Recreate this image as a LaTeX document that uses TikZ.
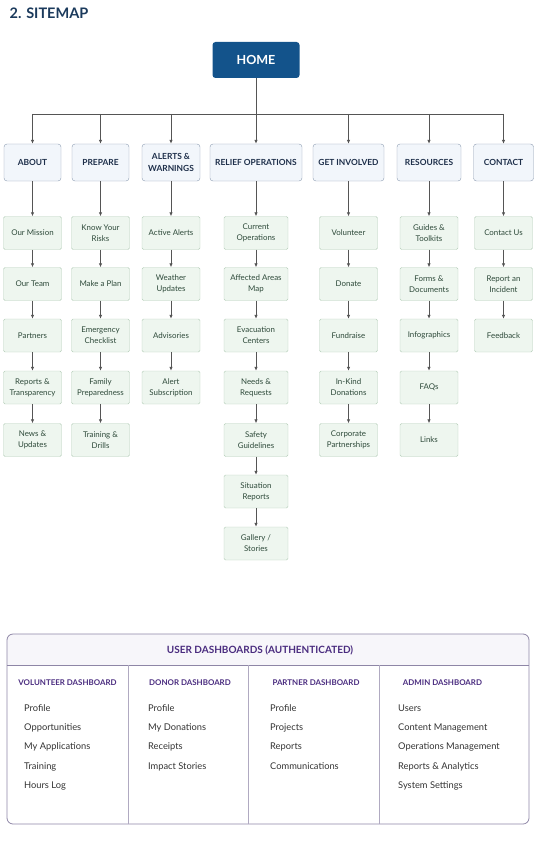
\documentclass[tikz,border=0pt]{standalone}
\usepackage{fontspec}
\setmainfont{Lato}
\usetikzlibrary{arrows.meta}

\definecolor{titleblue}{HTML}{1B3A5C}
\definecolor{homefill}{HTML}{13538B}
\definecolor{topfill}{HTML}{F2F6FB}
\definecolor{topline}{HTML}{8C9BB0}
\definecolor{toptext}{HTML}{1E2F4A}
\definecolor{pagefill}{HTML}{EEF6EF}
\definecolor{pageline}{HTML}{B4CDB8}
\definecolor{pagetext}{HTML}{2E4A3A}
\definecolor{linkgray}{HTML}{555555}
\definecolor{dashline}{HTML}{8E86A6}
\definecolor{dashfill}{HTML}{F7F6FA}
\definecolor{dashtext}{HTML}{4A2C7F}
\definecolor{itemtext}{HTML}{333333}

\begin{document}
\begin{tikzpicture}[x=1pt,y=-1pt,>={Latex[length=4pt,width=3.5pt]},
  homebox/.style={fill=homefill,rounded corners=3pt,minimum width=87pt,minimum height=36pt,text=white,font=\fontsize{12.5}{14}\selectfont\bfseries},
  topbox/.style={draw=topline,fill=topfill,rounded corners=3pt,minimum height=37pt,minimum width=57pt,align=center,text=toptext,font=\fontsize{8.4}{11.5}\selectfont\bfseries},
  pagebox/.style={draw=pageline,fill=pagefill,rounded corners=1.5pt,minimum height=33pt,minimum width=58pt,align=center,text=pagetext,font=\fontsize{7.9}{11}\selectfont},
  link/.style={draw=linkgray,line width=0.8pt},
  dashhead/.style={text=dashtext,font=\fontsize{7.9}{9}\selectfont\bfseries},
  dashitem/.style={anchor=west,inner sep=0pt,text=itemtext,font=\fontsize{9.3}{11}\selectfont}]
\useasboundingbox (0,0) rectangle (541,861);

\node[text=titleblue,font=\fontsize{14.5}{17}\selectfont\bfseries] (title) at (49,13.5) {2. SITEMAP};

% top levels
\node[homebox] (home) at (256,60) {HOME};
\node[topbox] (about) at (32.5,162.5) {ABOUT};
\node[topbox] (prepare) at (100.5,162.5) {PREPARE};
\node[topbox,minimum width=58pt] (alerts) at (171,162.5) {ALERTS \&\\WARNINGS};
\node[topbox,minimum width=92pt] (relief) at (256,162.5) {RELIEF OPERATIONS};
\node[topbox,minimum width=71pt] (involved) at (348.5,162.5) {GET INVOLVED};
\node[topbox,minimum width=64pt] (resources) at (429,162.5) {RESOURCES};
\node[topbox,minimum width=60pt] (contact) at (503.5,162.5) {CONTACT};

\coordinate (bus) at (256,114);
\draw[link] (about |- bus) -- (contact |- bus);
\draw[link,->] (home) -- (relief);
\draw[link,->] (about |- bus) -- (about);
\draw[link,->] (prepare |- bus) -- (prepare);
\draw[link,->] (alerts |- bus) -- (alerts);
\draw[link,->] (involved |- bus) -- (involved);
\draw[link,->] (resources |- bus) -- (resources);
\draw[link,->] (contact |- bus) -- (contact);

% about
\node[pagebox] (mission) at (32.5,233) {Our Mission};
\node[pagebox] (team) at (32.5,284) {Our Team};
\node[pagebox] (partners) at (32.5,335.5) {Partners};
\node[pagebox] (reports) at (32.5,387.5) {Reports \&\\Transparency};
\node[pagebox] (news) at (32.5,440) {News \&\\Updates};
\draw[link,->] (about) -- (mission);
\draw[link,->] (mission) -- (team);
\draw[link,->] (team) -- (partners);
\draw[link,->] (partners) -- (reports);
\draw[link,->] (reports) -- (news);

% prepare
\node[pagebox] (risks) at (100.5,233) {Know Your\\Risks};
\node[pagebox] (plan) at (100.5,284) {Make a Plan};
\node[pagebox] (checklist) at (100.5,335.5) {Emergency\\Checklist};
\node[pagebox] (family) at (100.5,387.5) {Family\\Preparedness};
\node[pagebox] (drills) at (100.5,440) {Training \&\\Drills};
\draw[link,->] (prepare) -- (risks);
\draw[link,->] (risks) -- (plan);
\draw[link,->] (plan) -- (checklist);
\draw[link,->] (checklist) -- (family);
\draw[link,->] (family) -- (drills);

% alerts
\node[pagebox] (active) at (171,233) {Active Alerts};
\node[pagebox] (weather) at (171,284) {Weather\\Updates};
\node[pagebox] (advisories) at (171,335.5) {Advisories};
\node[pagebox] (subscription) at (171,387.5) {Alert\\Subscription};
\draw[link,->] (alerts) -- (active);
\draw[link,->] (active) -- (weather);
\draw[link,->] (weather) -- (advisories);
\draw[link,->] (advisories) -- (subscription);

% relief operations
\node[pagebox,minimum width=64pt] (current) at (256,233) {Current\\Operations};
\node[pagebox,minimum width=64pt] (affected) at (256,284) {Affected Areas\\Map};
\node[pagebox,minimum width=64pt] (evacuation) at (256,335.5) {Evacuation\\Centers};
\node[pagebox,minimum width=64pt] (needs) at (256,387.5) {Needs \&\\Requests};
\node[pagebox,minimum width=64pt] (safety) at (256,440) {Safety\\Guidelines};
\node[pagebox,minimum width=64pt] (situation) at (256,491.5) {Situation\\Reports};
\node[pagebox,minimum width=64pt] (gallery) at (256,543.5) {Gallery /\\Stories};
\draw[link,->] (relief) -- (current);
\draw[link,->] (current) -- (affected);
\draw[link,->] (affected) -- (evacuation);
\draw[link,->] (evacuation) -- (needs);
\draw[link,->] (needs) -- (safety);
\draw[link,->] (safety) -- (situation);
\draw[link,->] (situation) -- (gallery);

% get involved
\node[pagebox] (volunteer) at (348.5,233) {Volunteer};
\node[pagebox] (donate) at (348.5,284) {Donate};
\node[pagebox] (fundraise) at (348.5,335.5) {Fundraise};
\node[pagebox] (inkind) at (348.5,387.5) {In-Kind\\Donations};
\node[pagebox] (corporate) at (348.5,440) {Corporate\\Partnerships};
\draw[link,->] (involved) -- (volunteer);
\draw[link,->] (volunteer) -- (donate);
\draw[link,->] (donate) -- (fundraise);
\draw[link,->] (fundraise) -- (inkind);
\draw[link,->] (inkind) -- (corporate);

% resources
\node[pagebox] (guides) at (429,233) {Guides \&\\Toolkits};
\node[pagebox] (forms) at (429,284) {Forms \&\\Documents};
\node[pagebox] (infographics) at (429,335.5) {Infographics};
\node[pagebox] (faqs) at (429,387.5) {FAQs};
\node[pagebox] (links) at (429,440) {Links};
\draw[link,->] (resources) -- (guides);
\draw[link,->] (guides) -- (forms);
\draw[link,->] (forms) -- (infographics);
\draw[link,->] (infographics) -- (faqs);
\draw[link,->] (faqs) -- (links);

% contact
\node[pagebox] (contactus) at (503.5,233) {Contact Us};
\node[pagebox] (incident) at (503.5,284) {Report an\\Incident};
\node[pagebox] (feedback) at (503.5,335.5) {Feedback};
\draw[link,->] (contact) -- (contactus);
\draw[link,->] (contactus) -- (incident);
\draw[link,->] (incident) -- (feedback);

% dashboards
\begin{scope}
\clip (0,634) rectangle (541,665);
\fill[dashfill,rounded corners=6pt] (7,634) rectangle (529,824);
\end{scope}
\draw[dashline,line width=0.8pt,rounded corners=6pt] (7,634) rectangle (529,824);
\draw[dashline,line width=0.8pt] (7,665) -- (529,665);
\draw[dashline!70,line width=0.8pt] (128,665) -- (128,824);
\draw[dashline!70,line width=0.8pt] (248,665) -- (248,824);
\draw[dashline!70,line width=0.8pt] (379,665) -- (379,824);
\node[text=dashtext,font=\fontsize{10}{12}\selectfont\bfseries] (dashtitle) at (260,650) {USER DASHBOARDS (AUTHENTICATED)};

\node[dashhead] (volhead) at (67.5,683) {VOLUNTEER DASHBOARD};
\node[dashitem] (vol1) at (24,708) {Profile};
\node[dashitem] (vol2) at (24,727.5) {Opportunities};
\node[dashitem] (vol3) at (24,747) {My Applications};
\node[dashitem] (vol4) at (24,766.5) {Training};
\node[dashitem] (vol5) at (24,786) {Hours Log};

\node[dashhead] (donhead) at (190,683) {DONOR DASHBOARD};
\node[dashitem] (don1) at (148,708) {Profile};
\node[dashitem] (don2) at (148,727.5) {My Donations};
\node[dashitem] (don3) at (148,747) {Receipts};
\node[dashitem] (don4) at (148,766.5) {Impact Stories};

\node[dashhead] (parhead) at (316,683) {PARTNER DASHBOARD};
\node[dashitem] (par1) at (270,708) {Profile};
\node[dashitem] (par2) at (270,727.5) {Projects};
\node[dashitem] (par3) at (270,747) {Reports};
\node[dashitem] (par4) at (270,766.5) {Communications};

\node[dashhead] (admhead) at (442.5,683) {ADMIN DASHBOARD};
\node[dashitem] (adm1) at (398,708) {Users};
\node[dashitem] (adm2) at (398,727.5) {Content Management};
\node[dashitem] (adm3) at (398,747) {Operations Management};
\node[dashitem] (adm4) at (398,766.5) {Reports \& Analytics};
\node[dashitem] (adm5) at (398,786) {System Settings};
\end{tikzpicture}
\end{document}
